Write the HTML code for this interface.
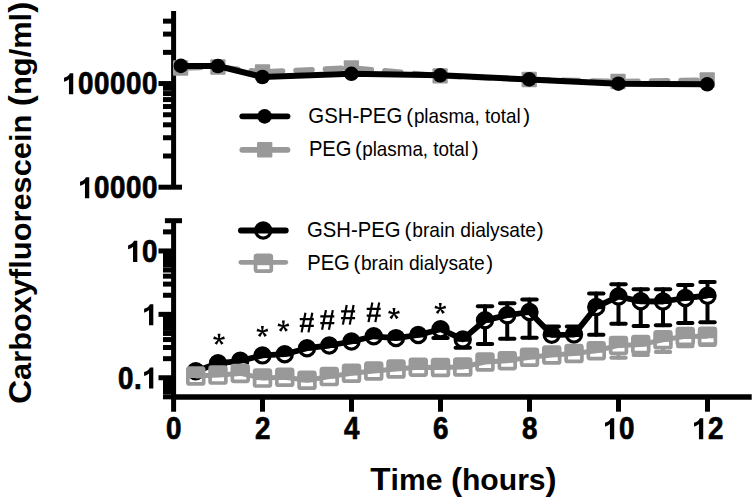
<!DOCTYPE html>
<html><head><meta charset="utf-8"><style>
html,body{margin:0;padding:0;background:#fff;}
body{width:756px;height:502px;overflow:hidden;font-family:"Liberation Sans",sans-serif;}
svg{display:block;}
</style></head><body>
<svg width="756" height="502" viewBox="0 0 756 502">
<rect width="756" height="502" fill="#fff"/>
<g stroke="#000" stroke-width="5" fill="none"><line x1="173.6" y1="11" x2="173.6" y2="187.20"/><line x1="158.5" y1="187.20" x2="182" y2="187.20"/><line x1="158.5" y1="83.55" x2="173.6" y2="83.55"/><line x1="163" y1="156.00" x2="173.6" y2="156.00"/><line x1="163" y1="137.75" x2="173.6" y2="137.75"/><line x1="163" y1="124.80" x2="173.6" y2="124.80"/><line x1="163" y1="114.75" x2="173.6" y2="114.75"/><line x1="163" y1="106.54" x2="173.6" y2="106.54"/><line x1="163" y1="99.61" x2="173.6" y2="99.61"/><line x1="163" y1="93.59" x2="173.6" y2="93.59"/><line x1="163" y1="88.29" x2="173.6" y2="88.29"/><line x1="163" y1="52.35" x2="173.6" y2="52.35"/><line x1="163" y1="34.10" x2="173.6" y2="34.10"/><line x1="163" y1="21.15" x2="173.6" y2="21.15"/><line x1="173.6" y1="220.7" x2="173.6" y2="411.7"/><line x1="164.9" y1="220.7" x2="182" y2="220.7"/><line x1="158.5" y1="250.95" x2="173.6" y2="250.95"/><line x1="158.5" y1="314.35" x2="173.6" y2="314.35"/><line x1="158.5" y1="377.75" x2="173.6" y2="377.75"/><line x1="163" y1="231.86" x2="173.6" y2="231.86"/><line x1="163" y1="295.26" x2="173.6" y2="295.26"/><line x1="163" y1="284.10" x2="173.6" y2="284.10"/><line x1="163" y1="276.18" x2="173.6" y2="276.18"/><line x1="163" y1="270.04" x2="173.6" y2="270.04"/><line x1="163" y1="265.02" x2="173.6" y2="265.02"/><line x1="163" y1="260.77" x2="173.6" y2="260.77"/><line x1="163" y1="257.09" x2="173.6" y2="257.09"/><line x1="163" y1="253.85" x2="173.6" y2="253.85"/><line x1="163" y1="358.66" x2="173.6" y2="358.66"/><line x1="163" y1="347.50" x2="173.6" y2="347.50"/><line x1="163" y1="339.58" x2="173.6" y2="339.58"/><line x1="163" y1="333.44" x2="173.6" y2="333.44"/><line x1="163" y1="328.42" x2="173.6" y2="328.42"/><line x1="163" y1="324.17" x2="173.6" y2="324.17"/><line x1="163" y1="320.49" x2="173.6" y2="320.49"/><line x1="163" y1="317.25" x2="173.6" y2="317.25"/><line x1="163" y1="396.84" x2="173.6" y2="396.84"/><line x1="163" y1="391.82" x2="173.6" y2="391.82"/><line x1="163" y1="387.57" x2="173.6" y2="387.57"/><line x1="163" y1="383.89" x2="173.6" y2="383.89"/><line x1="163" y1="380.65" x2="173.6" y2="380.65"/><line x1="171.1" y1="397.0" x2="751.7" y2="397.0" stroke-width="5.4"/><line x1="262.50" y1="397.0" x2="262.50" y2="411.7"/><line x1="351.50" y1="397.0" x2="351.50" y2="411.7"/><line x1="440.50" y1="397.0" x2="440.50" y2="411.7"/><line x1="529.50" y1="397.0" x2="529.50" y2="411.7"/><line x1="618.50" y1="397.0" x2="618.50" y2="411.7"/><line x1="707.50" y1="397.0" x2="707.50" y2="411.7"/></g>
<g font-family="Liberation Sans" font-weight="bold" font-size="30" fill="#000" stroke="#000" stroke-width="0.7" stroke-linejoin="round"><path transform="translate(61.50,94.3) scale(0.014062,-0.014941)" d="M835,0L835,1409L600,1409C555,1290 400,1150 180,1105L180,840C330,870 450,930 530,1010L530,0Z"/><text transform="translate(77.96,94.3) scale(0.925,1.02)">0</text><text transform="translate(93.98,94.3) scale(0.925,1.02)">0</text><text transform="translate(110.00,94.3) scale(0.925,1.02)">0</text><text transform="translate(126.02,94.3) scale(0.925,1.02)">0</text><text transform="translate(142.03,94.3) scale(0.925,1.02)">0</text><path transform="translate(77.51,198.3) scale(0.014062,-0.014941)" d="M835,0L835,1409L600,1409C555,1290 400,1150 180,1105L180,840C330,870 450,930 530,1010L530,0Z"/><text transform="translate(93.98,198.3) scale(0.925,1.02)">0</text><text transform="translate(110.00,198.3) scale(0.925,1.02)">0</text><text transform="translate(126.02,198.3) scale(0.925,1.02)">0</text><text transform="translate(142.03,198.3) scale(0.925,1.02)">0</text><path transform="translate(125.57,261.9) scale(0.014062,-0.014941)" d="M835,0L835,1409L600,1409C555,1290 400,1150 180,1105L180,840C330,870 450,930 530,1010L530,0Z"/><text transform="translate(142.03,261.9) scale(0.925,1.02)">0</text><path transform="translate(141.58,325.2) scale(0.014062,-0.014941)" d="M835,0L835,1409L600,1409C555,1290 400,1150 180,1105L180,840C330,870 450,930 530,1010L530,0Z"/><text transform="translate(118.01,388.6) scale(0.925,1.02)">0</text><text transform="translate(134.03,388.6) scale(0.925,1.02)">.</text><path transform="translate(141.58,388.6) scale(0.014062,-0.014941)" d="M835,0L835,1409L600,1409C555,1290 400,1150 180,1105L180,840C330,870 450,930 530,1010L530,0Z"/><text transform="translate(165.94,439.2) scale(0.925,1.02)">0</text><text transform="translate(254.94,439.2) scale(0.925,1.02)">2</text><text transform="translate(343.94,439.2) scale(0.925,1.02)">4</text><text transform="translate(432.94,439.2) scale(0.925,1.02)">6</text><text transform="translate(521.94,439.2) scale(0.925,1.02)">8</text><path transform="translate(602.48,439.2) scale(0.014062,-0.014941)" d="M835,0L835,1409L600,1409C555,1290 400,1150 180,1105L180,840C330,870 450,930 530,1010L530,0Z"/><text transform="translate(618.95,439.2) scale(0.925,1.02)">0</text><path transform="translate(691.48,439.2) scale(0.014062,-0.014941)" d="M835,0L835,1409L600,1409C555,1290 400,1150 180,1105L180,840C330,870 450,930 530,1010L530,0Z"/><text transform="translate(707.95,439.2) scale(0.925,1.02)">2</text></g>
<text font-family="Liberation Sans" font-weight="bold" transform="translate(31.2,404.1) rotate(-90) scale(1.062,1)" x="0" y="0"><tspan font-size="31.5">C</tspan><tspan font-size="29.0">arboxyfluorescein </tspan><tspan font-size="31.5">(</tspan><tspan font-size="29.0">ng/ml</tspan><tspan font-size="31.5">)</tspan></text>
<text font-family="Liberation Sans" font-weight="bold" transform="translate(370.3,490.3) scale(1.039,1)" x="0" y="0"><tspan font-size="32.0">T</tspan><tspan font-size="29.0">ime </tspan><tspan font-size="32.0">(</tspan><tspan font-size="29.0">hours</tspan><tspan font-size="32.0">)</tspan></text>
<g stroke="#999999" stroke-width="5.5" stroke-dasharray="16.1 13.4" stroke-dashoffset="25.5" stroke-linecap="round"><line x1="180.6" y1="68" x2="217.9" y2="67"/><line x1="217.9" y1="67" x2="262.5" y2="72"/><line x1="262.5" y1="72" x2="351.4" y2="67.8"/><line x1="351.4" y1="67.8" x2="440.1" y2="75.9"/><line x1="440.1" y1="75.9" x2="529.2" y2="79.5"/><line x1="529.2" y1="79.5" x2="618.0" y2="81.5"/><line x1="618.0" y1="81.5" x2="707.2" y2="80"/></g>
<g fill="#999999"><rect x="172.95" y="60.35" width="15.3" height="15.3" rx="1"/><rect x="210.25" y="59.35" width="15.3" height="15.3" rx="1"/><rect x="254.85" y="64.35" width="15.3" height="15.3" rx="1"/><rect x="343.75" y="60.15" width="15.3" height="15.3" rx="1"/><rect x="432.45" y="68.25" width="15.3" height="15.3" rx="1"/><rect x="521.55" y="71.85" width="15.3" height="15.3" rx="1"/><rect x="610.35" y="73.85" width="15.3" height="15.3" rx="1"/><rect x="699.55" y="72.35" width="15.3" height="15.3" rx="1"/></g>
<polyline points="180.9,65.9 217.9,66 262.4,77 351.4,73.8 440.2,75.3 529.2,79.4 618.4,83.7 707.2,84.3" fill="none" stroke="#000" stroke-width="6" stroke-linejoin="round"/>
<g fill="#000"><circle cx="180.9" cy="65.9" r="7.3"/><circle cx="217.9" cy="66" r="7.3"/><circle cx="262.4" cy="77" r="7.3"/><circle cx="351.4" cy="73.8" r="7.3"/><circle cx="440.2" cy="75.3" r="7.3"/><circle cx="529.2" cy="79.4" r="7.3"/><circle cx="618.4" cy="83.7" r="7.3"/><circle cx="707.2" cy="84.3" r="7.3"/></g>
<line x1="242.3" y1="116.3" x2="287.5" y2="116.3" stroke="#000" stroke-width="5.8" stroke-linecap="round"/>
<circle cx="264.6" cy="116.4" r="7.3" fill="#000"/>
<line x1="242.3" y1="149.8" x2="287.5" y2="149.8" stroke="#999999" stroke-width="5.8" stroke-linecap="round"/>
<rect x="257.05" y="141.9" width="15.3" height="15.6" rx="1" fill="#999999"/>
<line x1="240.9" y1="230.5" x2="285.8" y2="230.5" stroke="#000" stroke-width="5.8" stroke-linecap="round"/>
<path d="M255.99,232.90 A7.6,7.6 0 1 1 270.41,232.90 Z" fill="#000"/><circle cx="263.20" cy="230.50" r="7.60" fill="none" stroke="#000" stroke-width="3.2"/>
<line x1="240.9" y1="262.3" x2="285.8" y2="262.3" stroke="#999999" stroke-width="4.8" stroke-linecap="round"/>
<rect x="255.50" y="255.30" width="15.80" height="9.90" fill="#999999"/><rect x="255.50" y="255.30" width="15.80" height="15.80" rx="1.5" fill="none" stroke="#999999" stroke-width="3.7"/>
<g font-family="Liberation Sans" font-size="20" fill="#000"><text font-size="21.6" transform="translate(308.3,123.2) scale(0.944,1)">GSH-PEG</text><text font-size="20.5" transform="translate(406.2,123.2) scale(1,1)">(</text><text font-size="19.8" transform="translate(413.9,123.2) scale(0.951,1)">plasma, total</text><text font-size="20.5" transform="translate(523.3,123.2) scale(1,1)">)</text><text font-size="21.6" transform="translate(308.9,156.3) scale(0.935,1)">PEG</text><text font-size="20.5" transform="translate(354.9,156.3) scale(1,1)">(</text><text font-size="19.8" transform="translate(362.2,156.3) scale(0.951,1)">plasma, total</text><text font-size="20.5" transform="translate(471.7,156.3) scale(1,1)">)</text><text font-size="21.6" transform="translate(307.0,237.4) scale(0.938,1)">GSH-PEG</text><text font-size="20.5" transform="translate(404.4,237.4) scale(1,1)">(</text><text font-size="19.8" transform="translate(412.2,237.4) scale(0.97,1)">brain dialysate</text><text font-size="20.5" transform="translate(536.7,237.4) scale(1,1)">)</text><text font-size="21.6" transform="translate(307.2,269.5) scale(0.935,1)">PEG</text><text font-size="20.5" transform="translate(353.5,269.5) scale(1,1)">(</text><text font-size="19.8" transform="translate(360.9,269.5) scale(0.97,1)">brain dialysate</text><text font-size="20.5" transform="translate(486.2,269.5) scale(1,1)">)</text></g>
<g stroke="#000" stroke-width="4" stroke-linecap="round"><line x1="433.30" y1="338.0" x2="447.70" y2="338.0"/><line x1="455.55" y1="347.7" x2="469.95" y2="347.7"/><line x1="485.00" y1="306.2" x2="485.00" y2="312.10"/><line x1="477.80" y1="306.2" x2="492.20" y2="306.2"/><line x1="485.00" y1="328.50" x2="485.00" y2="344.0"/><line x1="477.80" y1="344.0" x2="492.20" y2="344.0"/><line x1="507.25" y1="303.2" x2="507.25" y2="307.00"/><line x1="500.05" y1="303.2" x2="514.45" y2="303.2"/><line x1="507.25" y1="323.40" x2="507.25" y2="338.8"/><line x1="500.05" y1="338.8" x2="514.45" y2="338.8"/><line x1="529.50" y1="299.5" x2="529.50" y2="303.80"/><line x1="522.30" y1="299.5" x2="536.70" y2="299.5"/><line x1="529.50" y1="320.20" x2="529.50" y2="337.8"/><line x1="522.30" y1="337.8" x2="536.70" y2="337.8"/><line x1="544.55" y1="326.4" x2="558.95" y2="326.4"/><line x1="566.80" y1="326.4" x2="581.20" y2="326.4"/><line x1="596.25" y1="293.5" x2="596.25" y2="298.70"/><line x1="589.05" y1="293.5" x2="603.45" y2="293.5"/><line x1="596.25" y1="315.10" x2="596.25" y2="334.7"/><line x1="589.05" y1="334.7" x2="603.45" y2="334.7"/><line x1="618.50" y1="284.2" x2="618.50" y2="288.30"/><line x1="611.30" y1="284.2" x2="625.70" y2="284.2"/><line x1="618.50" y1="304.70" x2="618.50" y2="323.7"/><line x1="611.30" y1="323.7" x2="625.70" y2="323.7"/><line x1="640.75" y1="289.3" x2="640.75" y2="293.10"/><line x1="633.55" y1="289.3" x2="647.95" y2="289.3"/><line x1="640.75" y1="309.50" x2="640.75" y2="325.9"/><line x1="633.55" y1="325.9" x2="647.95" y2="325.9"/><line x1="663.00" y1="289.3" x2="663.00" y2="293.30"/><line x1="655.80" y1="289.3" x2="670.20" y2="289.3"/><line x1="663.00" y1="309.70" x2="663.00" y2="325.3"/><line x1="655.80" y1="325.3" x2="670.20" y2="325.3"/><line x1="685.25" y1="284.9" x2="685.25" y2="289.80"/><line x1="678.05" y1="284.9" x2="692.45" y2="284.9"/><line x1="685.25" y1="306.20" x2="685.25" y2="323.1"/><line x1="678.05" y1="323.1" x2="692.45" y2="323.1"/><line x1="707.50" y1="282.1" x2="707.50" y2="287.50"/><line x1="700.30" y1="282.1" x2="714.70" y2="282.1"/><line x1="707.50" y1="303.90" x2="707.50" y2="322.2"/><line x1="700.30" y1="322.2" x2="714.70" y2="322.2"/></g>
<polyline points="195.75,371.3 218.00,363.3 240.25,360.8 262.50,355.4 284.75,354.2 307.00,348.2 329.25,345.5 351.50,341.5 373.75,336.3 396.00,338.1 418.25,335.0 440.50,329.2 462.75,339.4 485.00,320.3 507.25,315.2 529.50,312.0 551.75,334.8 574.00,334.6 596.25,306.9 618.50,296.5 640.75,301.3 663.00,301.5 685.25,298.0 707.50,295.7" fill="none" stroke="#000" stroke-width="5.8" stroke-linejoin="round"/>
<path d="M188.54,373.70 A7.6,7.6 0 1 1 202.96,373.70 Z" fill="#000"/><circle cx="195.75" cy="371.30" r="7.60" fill="none" stroke="#000" stroke-width="3.2"/><path d="M210.79,365.70 A7.6,7.6 0 1 1 225.21,365.70 Z" fill="#000"/><circle cx="218.00" cy="363.30" r="7.60" fill="none" stroke="#000" stroke-width="3.2"/><path d="M233.04,363.20 A7.6,7.6 0 1 1 247.46,363.20 Z" fill="#000"/><circle cx="240.25" cy="360.80" r="7.60" fill="none" stroke="#000" stroke-width="3.2"/><path d="M255.29,357.80 A7.6,7.6 0 1 1 269.71,357.80 Z" fill="#000"/><circle cx="262.50" cy="355.40" r="7.60" fill="none" stroke="#000" stroke-width="3.2"/><path d="M277.54,356.60 A7.6,7.6 0 1 1 291.96,356.60 Z" fill="#000"/><circle cx="284.75" cy="354.20" r="7.60" fill="none" stroke="#000" stroke-width="3.2"/><path d="M299.79,350.60 A7.6,7.6 0 1 1 314.21,350.60 Z" fill="#000"/><circle cx="307.00" cy="348.20" r="7.60" fill="none" stroke="#000" stroke-width="3.2"/><path d="M322.04,347.90 A7.6,7.6 0 1 1 336.46,347.90 Z" fill="#000"/><circle cx="329.25" cy="345.50" r="7.60" fill="none" stroke="#000" stroke-width="3.2"/><path d="M344.29,343.90 A7.6,7.6 0 1 1 358.71,343.90 Z" fill="#000"/><circle cx="351.50" cy="341.50" r="7.60" fill="none" stroke="#000" stroke-width="3.2"/><path d="M366.54,338.70 A7.6,7.6 0 1 1 380.96,338.70 Z" fill="#000"/><circle cx="373.75" cy="336.30" r="7.60" fill="none" stroke="#000" stroke-width="3.2"/><path d="M388.79,340.50 A7.6,7.6 0 1 1 403.21,340.50 Z" fill="#000"/><circle cx="396.00" cy="338.10" r="7.60" fill="none" stroke="#000" stroke-width="3.2"/><path d="M411.04,337.40 A7.6,7.6 0 1 1 425.46,337.40 Z" fill="#000"/><circle cx="418.25" cy="335.00" r="7.60" fill="none" stroke="#000" stroke-width="3.2"/><path d="M433.29,331.60 A7.6,7.6 0 1 1 447.71,331.60 Z" fill="#000"/><circle cx="440.50" cy="329.20" r="7.60" fill="none" stroke="#000" stroke-width="3.2"/><path d="M455.54,341.80 A7.6,7.6 0 1 1 469.96,341.80 Z" fill="#000"/><circle cx="462.75" cy="339.40" r="7.60" fill="none" stroke="#000" stroke-width="3.2"/><path d="M477.79,322.70 A7.6,7.6 0 1 1 492.21,322.70 Z" fill="#000"/><circle cx="485.00" cy="320.30" r="7.60" fill="none" stroke="#000" stroke-width="3.2"/><path d="M500.04,317.60 A7.6,7.6 0 1 1 514.46,317.60 Z" fill="#000"/><circle cx="507.25" cy="315.20" r="7.60" fill="none" stroke="#000" stroke-width="3.2"/><path d="M522.29,314.40 A7.6,7.6 0 1 1 536.71,314.40 Z" fill="#000"/><circle cx="529.50" cy="312.00" r="7.60" fill="none" stroke="#000" stroke-width="3.2"/><path d="M544.54,337.20 A7.6,7.6 0 1 1 558.96,337.20 Z" fill="#000"/><circle cx="551.75" cy="334.80" r="7.60" fill="none" stroke="#000" stroke-width="3.2"/><path d="M566.79,337.00 A7.6,7.6 0 1 1 581.21,337.00 Z" fill="#000"/><circle cx="574.00" cy="334.60" r="7.60" fill="none" stroke="#000" stroke-width="3.2"/><path d="M589.04,309.30 A7.6,7.6 0 1 1 603.46,309.30 Z" fill="#000"/><circle cx="596.25" cy="306.90" r="7.60" fill="none" stroke="#000" stroke-width="3.2"/><path d="M611.29,298.90 A7.6,7.6 0 1 1 625.71,298.90 Z" fill="#000"/><circle cx="618.50" cy="296.50" r="7.60" fill="none" stroke="#000" stroke-width="3.2"/><path d="M633.54,303.70 A7.6,7.6 0 1 1 647.96,303.70 Z" fill="#000"/><circle cx="640.75" cy="301.30" r="7.60" fill="none" stroke="#000" stroke-width="3.2"/><path d="M655.79,303.90 A7.6,7.6 0 1 1 670.21,303.90 Z" fill="#000"/><circle cx="663.00" cy="301.50" r="7.60" fill="none" stroke="#000" stroke-width="3.2"/><path d="M678.04,300.40 A7.6,7.6 0 1 1 692.46,300.40 Z" fill="#000"/><circle cx="685.25" cy="298.00" r="7.60" fill="none" stroke="#000" stroke-width="3.2"/><path d="M700.29,298.10 A7.6,7.6 0 1 1 714.71,298.10 Z" fill="#000"/><circle cx="707.50" cy="295.70" r="7.60" fill="none" stroke="#000" stroke-width="3.2"/>
<g stroke="#999999" stroke-width="4" stroke-linecap="round"><line x1="618.50" y1="354.15" x2="618.50" y2="357.7"/><line x1="611.30" y1="357.7" x2="625.70" y2="357.7"/><line x1="640.75" y1="353.35" x2="640.75" y2="355.0"/><line x1="633.55" y1="355.0" x2="647.95" y2="355.0"/><line x1="663.00" y1="348.55" x2="663.00" y2="352.0"/><line x1="655.80" y1="352.0" x2="670.20" y2="352.0"/><line x1="685.25" y1="345.15" x2="685.25" y2="346.3"/><line x1="678.05" y1="346.3" x2="692.45" y2="346.3"/><line x1="700.30" y1="345.0" x2="714.70" y2="345.0"/></g>
<polyline points="195.75,376.0 218.00,375.1 240.25,373.4 262.50,378.1 284.75,377.3 307.00,380.3 329.25,376.6 351.50,373.3 373.75,371.0 396.00,369.0 418.25,367.2 440.50,367.5 462.75,367.0 485.00,362.0 507.25,360.7 529.50,357.3 551.75,355.0 574.00,353.5 596.25,350.7 618.50,345.4 640.75,344.6 663.00,339.8 685.25,336.4 707.50,336.3" fill="none" stroke="#999999" stroke-width="5" stroke-linejoin="round"/>
<rect x="187.85" y="368.10" width="15.80" height="9.90" fill="#999999"/><rect x="187.85" y="368.10" width="15.80" height="15.80" rx="1.5" fill="none" stroke="#999999" stroke-width="3.7"/><rect x="210.10" y="367.20" width="15.80" height="9.90" fill="#999999"/><rect x="210.10" y="367.20" width="15.80" height="15.80" rx="1.5" fill="none" stroke="#999999" stroke-width="3.7"/><rect x="232.35" y="365.50" width="15.80" height="9.90" fill="#999999"/><rect x="232.35" y="365.50" width="15.80" height="15.80" rx="1.5" fill="none" stroke="#999999" stroke-width="3.7"/><rect x="254.60" y="370.20" width="15.80" height="9.90" fill="#999999"/><rect x="254.60" y="370.20" width="15.80" height="15.80" rx="1.5" fill="none" stroke="#999999" stroke-width="3.7"/><rect x="276.85" y="369.40" width="15.80" height="9.90" fill="#999999"/><rect x="276.85" y="369.40" width="15.80" height="15.80" rx="1.5" fill="none" stroke="#999999" stroke-width="3.7"/><rect x="299.10" y="372.40" width="15.80" height="9.90" fill="#999999"/><rect x="299.10" y="372.40" width="15.80" height="15.80" rx="1.5" fill="none" stroke="#999999" stroke-width="3.7"/><rect x="321.35" y="368.70" width="15.80" height="9.90" fill="#999999"/><rect x="321.35" y="368.70" width="15.80" height="15.80" rx="1.5" fill="none" stroke="#999999" stroke-width="3.7"/><rect x="343.60" y="365.40" width="15.80" height="9.90" fill="#999999"/><rect x="343.60" y="365.40" width="15.80" height="15.80" rx="1.5" fill="none" stroke="#999999" stroke-width="3.7"/><rect x="365.85" y="363.10" width="15.80" height="9.90" fill="#999999"/><rect x="365.85" y="363.10" width="15.80" height="15.80" rx="1.5" fill="none" stroke="#999999" stroke-width="3.7"/><rect x="388.10" y="361.10" width="15.80" height="9.90" fill="#999999"/><rect x="388.10" y="361.10" width="15.80" height="15.80" rx="1.5" fill="none" stroke="#999999" stroke-width="3.7"/><rect x="410.35" y="359.30" width="15.80" height="9.90" fill="#999999"/><rect x="410.35" y="359.30" width="15.80" height="15.80" rx="1.5" fill="none" stroke="#999999" stroke-width="3.7"/><rect x="432.60" y="359.60" width="15.80" height="9.90" fill="#999999"/><rect x="432.60" y="359.60" width="15.80" height="15.80" rx="1.5" fill="none" stroke="#999999" stroke-width="3.7"/><rect x="454.85" y="359.10" width="15.80" height="9.90" fill="#999999"/><rect x="454.85" y="359.10" width="15.80" height="15.80" rx="1.5" fill="none" stroke="#999999" stroke-width="3.7"/><rect x="477.10" y="354.10" width="15.80" height="9.90" fill="#999999"/><rect x="477.10" y="354.10" width="15.80" height="15.80" rx="1.5" fill="none" stroke="#999999" stroke-width="3.7"/><rect x="499.35" y="352.80" width="15.80" height="9.90" fill="#999999"/><rect x="499.35" y="352.80" width="15.80" height="15.80" rx="1.5" fill="none" stroke="#999999" stroke-width="3.7"/><rect x="521.60" y="349.40" width="15.80" height="9.90" fill="#999999"/><rect x="521.60" y="349.40" width="15.80" height="15.80" rx="1.5" fill="none" stroke="#999999" stroke-width="3.7"/><rect x="543.85" y="347.10" width="15.80" height="9.90" fill="#999999"/><rect x="543.85" y="347.10" width="15.80" height="15.80" rx="1.5" fill="none" stroke="#999999" stroke-width="3.7"/><rect x="566.10" y="345.60" width="15.80" height="9.90" fill="#999999"/><rect x="566.10" y="345.60" width="15.80" height="15.80" rx="1.5" fill="none" stroke="#999999" stroke-width="3.7"/><rect x="588.35" y="342.80" width="15.80" height="9.90" fill="#999999"/><rect x="588.35" y="342.80" width="15.80" height="15.80" rx="1.5" fill="none" stroke="#999999" stroke-width="3.7"/><rect x="610.60" y="337.50" width="15.80" height="9.90" fill="#999999"/><rect x="610.60" y="337.50" width="15.80" height="15.80" rx="1.5" fill="none" stroke="#999999" stroke-width="3.7"/><rect x="632.85" y="336.70" width="15.80" height="9.90" fill="#999999"/><rect x="632.85" y="336.70" width="15.80" height="15.80" rx="1.5" fill="none" stroke="#999999" stroke-width="3.7"/><rect x="655.10" y="331.90" width="15.80" height="9.90" fill="#999999"/><rect x="655.10" y="331.90" width="15.80" height="15.80" rx="1.5" fill="none" stroke="#999999" stroke-width="3.7"/><rect x="677.35" y="328.50" width="15.80" height="9.90" fill="#999999"/><rect x="677.35" y="328.50" width="15.80" height="15.80" rx="1.5" fill="none" stroke="#999999" stroke-width="3.7"/><rect x="699.60" y="328.40" width="15.80" height="9.90" fill="#999999"/><rect x="699.60" y="328.40" width="15.80" height="15.80" rx="1.5" fill="none" stroke="#999999" stroke-width="3.7"/>
<path d="M219.70,339.40L220.50,333.70L217.60,333.70L218.40,339.40ZM219.25,340.02L224.92,339.02L224.02,336.26L218.85,338.78ZM218.52,339.78L221.23,344.86L223.57,343.16L219.58,339.02ZM218.52,339.02L214.53,343.16L216.87,344.86L219.58,339.78ZM219.25,338.78L214.08,336.26L213.18,339.02L218.85,340.02Z" fill="#000"/>
<path d="M263.05,331.60L263.85,325.90L260.95,325.90L261.75,331.60ZM262.60,332.22L268.27,331.22L267.37,328.46L262.20,330.98ZM261.87,331.98L264.58,337.06L266.92,335.36L262.93,331.22ZM261.87,331.22L257.88,335.36L260.22,337.06L262.93,331.98ZM262.60,330.98L257.43,328.46L256.53,331.22L262.20,332.22Z" fill="#000"/>
<path d="M284.05,326.30L284.85,320.60L281.95,320.60L282.75,326.30ZM283.60,326.92L289.27,325.92L288.37,323.16L283.20,325.68ZM282.87,326.68L285.58,331.76L287.92,330.06L283.93,325.92ZM282.87,325.92L278.88,330.06L281.22,331.76L283.93,326.68ZM283.60,325.68L278.43,323.16L277.53,325.92L283.20,326.92Z" fill="#000"/>
<path d="M394.65,313.70L395.45,308.00L392.55,308.00L393.35,313.70ZM394.20,314.32L399.87,313.32L398.97,310.56L393.80,313.08ZM393.47,314.08L396.18,319.16L398.52,317.46L394.53,313.32ZM393.47,313.32L389.48,317.46L391.82,319.16L394.53,314.08ZM394.20,313.08L389.03,310.56L388.13,313.32L393.80,314.32Z" fill="#000"/>
<path d="M440.95,308.60L441.75,302.90L438.85,302.90L439.65,308.60ZM440.50,309.22L446.17,308.22L445.27,305.46L440.10,307.98ZM439.77,308.98L442.48,314.06L444.82,312.36L440.83,308.22ZM439.77,308.22L435.78,312.36L438.12,314.06L440.83,308.98ZM440.50,307.98L435.33,305.46L434.43,308.22L440.10,309.22Z" fill="#000"/>
<path d="M299.80,319.10H313.80M299.80,325.90H313.80M305.45,312.80L301.60,332.40M312.30,312.80L308.45,332.40" stroke="#000" stroke-width="2.2" fill="none"/>
<path d="M320.30,316.40H334.30M320.30,323.20H334.30M325.95,310.10L322.10,329.70M332.80,310.10L328.95,329.70" stroke="#000" stroke-width="2.2" fill="none"/>
<path d="M341.10,311.30H355.10M341.10,318.10H355.10M346.75,305.00L342.90,324.60M353.60,305.00L349.75,324.60" stroke="#000" stroke-width="2.2" fill="none"/>
<path d="M366.70,308.80H380.70M366.70,315.60H380.70M372.35,302.50L368.50,322.10M379.20,302.50L375.35,322.10" stroke="#000" stroke-width="2.2" fill="none"/>
</svg>
</body></html>
